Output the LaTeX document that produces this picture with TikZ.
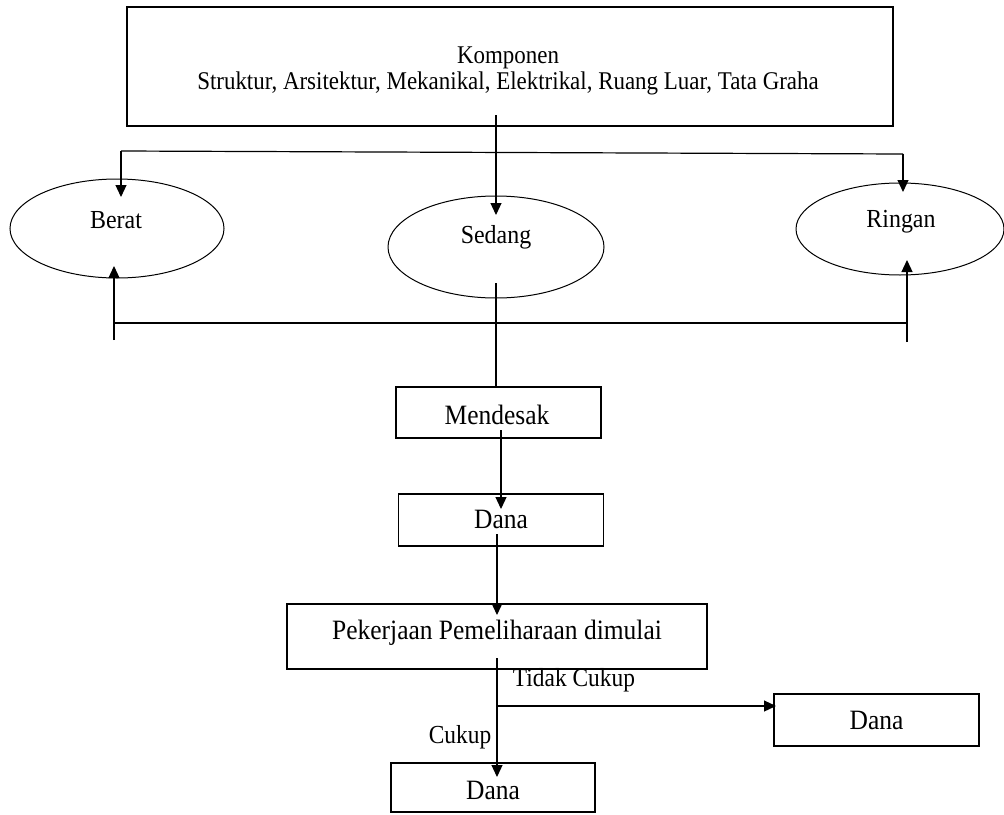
\documentclass[tikz,border=0pt]{standalone}
\usepackage{fontspec}
\setmainfont{Liberation Serif}
\usetikzlibrary{arrows.meta,shapes.geometric}
\newcommand\sqz[2]{\scalebox{#1}[1]{#2}}
\begin{document}
\begin{tikzpicture}[x=1pt,y=-1pt, line width=1.2pt,
 box/.style={draw, rectangle, inner sep=0pt, outer sep=0pt},
 ell/.style={draw, ellipse, inner sep=0pt, outer sep=0pt, line width=1pt},
 toplbl/.style={inner sep=0pt, font=\fontsize{25.5}{26}\selectfont},
 elbl/.style={inner sep=0pt, font=\fontsize{26}{28}\selectfont},
 lbl/.style={inner sep=0pt, font=\fontsize{26}{28}\selectfont},
 blbl/.style={inner sep=0pt, font=\fontsize{28}{30}\selectfont},
 arr/.style={-{Triangle[length=12pt,width=11pt]}}]
\useasboundingbox (0,0) rectangle (1004,814);
% top box
\node[box, minimum width=766pt, minimum height=119pt] (top) at (510,66.5) {};
\node[toplbl, align=center] (topT) at (508,71) {\sqz{0.9}{Komponen}\\\sqz{0.9}{Struktur, Arsitektur, Mekanikal, Elektrikal, Ruang Luar, Tata Graha}};
% ellipses
\node[ell, minimum width=214pt, minimum height=99pt] (berat) at (117,228.5) {};
\node[elbl] (beratT) at (116,220) {\sqz{0.92}{Berat}};
\node[ell, minimum width=216pt, minimum height=102pt] (sedang) at (496,247) {};
\node[elbl] (sedangT) at (496,237) {\sqz{0.92}{Sedang}};
\node[ell, minimum width=208pt, minimum height=92pt] (ringan) at (900,229) {};
\node[elbl] (ringanT) at (901,222) {\sqz{0.92}{Ringan}};
% boxes
\node[box, minimum width=205pt, minimum height=51pt] (mendesak) at (498.5,412.5) {};
\node[blbl] (mendesakT) at (497,415) {\sqz{0.91}{Mendesak}};
\node[box, minimum width=205pt, minimum height=52pt] (dana1) at (501,520) {};
\node[blbl] (dana1T) at (501,519) {\sqz{0.91}{Dana}};
\node[box, minimum width=420pt, minimum height=65pt] (kerja) at (497,636.5) {};
\node[blbl] (kerjaT) at (497,633) {\sqz{0.91}{Pekerjaan Pemeliharaan dimulai}};
\node[box, minimum width=205pt, minimum height=52pt] (dana2) at (876.5,720) {};
\node[blbl] (dana2T) at (876.5,720) {\sqz{0.91}{Dana}};
\node[box, minimum width=204pt, minimum height=49pt] (dana3) at (493,787.5) {};
\node[blbl] (dana3T) at (493,790) {\sqz{0.91}{Dana}};
% labels
\node[lbl] (tidak) at (574,680) {\sqz{0.9}{Tidak Cukup}};
\node[lbl] (cukup) at (460,737) {\sqz{0.9}{Cukup}};
% connectors
\draw[arr, shorten <=-11pt, shorten >=-19pt] (top.south -| sedang.north) -- (sedang.north);
\coordinate (bl) at (121,151);
\coordinate (br) at (903,154);
\draw (bl) -- (br);
\draw[arr, shorten >=-18pt] (bl) -- (bl |- berat.north);
\draw[arr, shorten >=-9pt] (br) -- (br |- ringan.north);
\coordinate (bbl) at (114,323);
\coordinate (bbr) at (907,323);
\draw (bbl) -- (bbr);
\coordinate (bls) at (114,340);
\coordinate (brs) at (907,342);
\draw[arr, shorten >=-12pt] (bls) -- (bls |- berat.south);
\draw[arr, shorten >=-15pt] (brs) -- (brs |- ringan.south);
\draw[shorten <=-15pt] (sedang.south) -- (sedang.south |- mendesak.north);
\draw[arr, shorten <=-8pt, shorten >=-15pt] (dana1.north |- mendesak.south) -- (dana1.north);
\draw[arr, shorten <=-12pt, shorten >=-11pt] (kerja.north |- dana1.south) -- (kerja.north);
\draw[arr, shorten <=-11pt, shorten >=-14pt] (kerja.south) -- (kerja.south |- dana3.north);
\coordinate (sp) at (498,706);
\draw[arr, shorten >=-2pt] (sp) -- (sp -| dana2.west);
\end{tikzpicture}
\end{document}
